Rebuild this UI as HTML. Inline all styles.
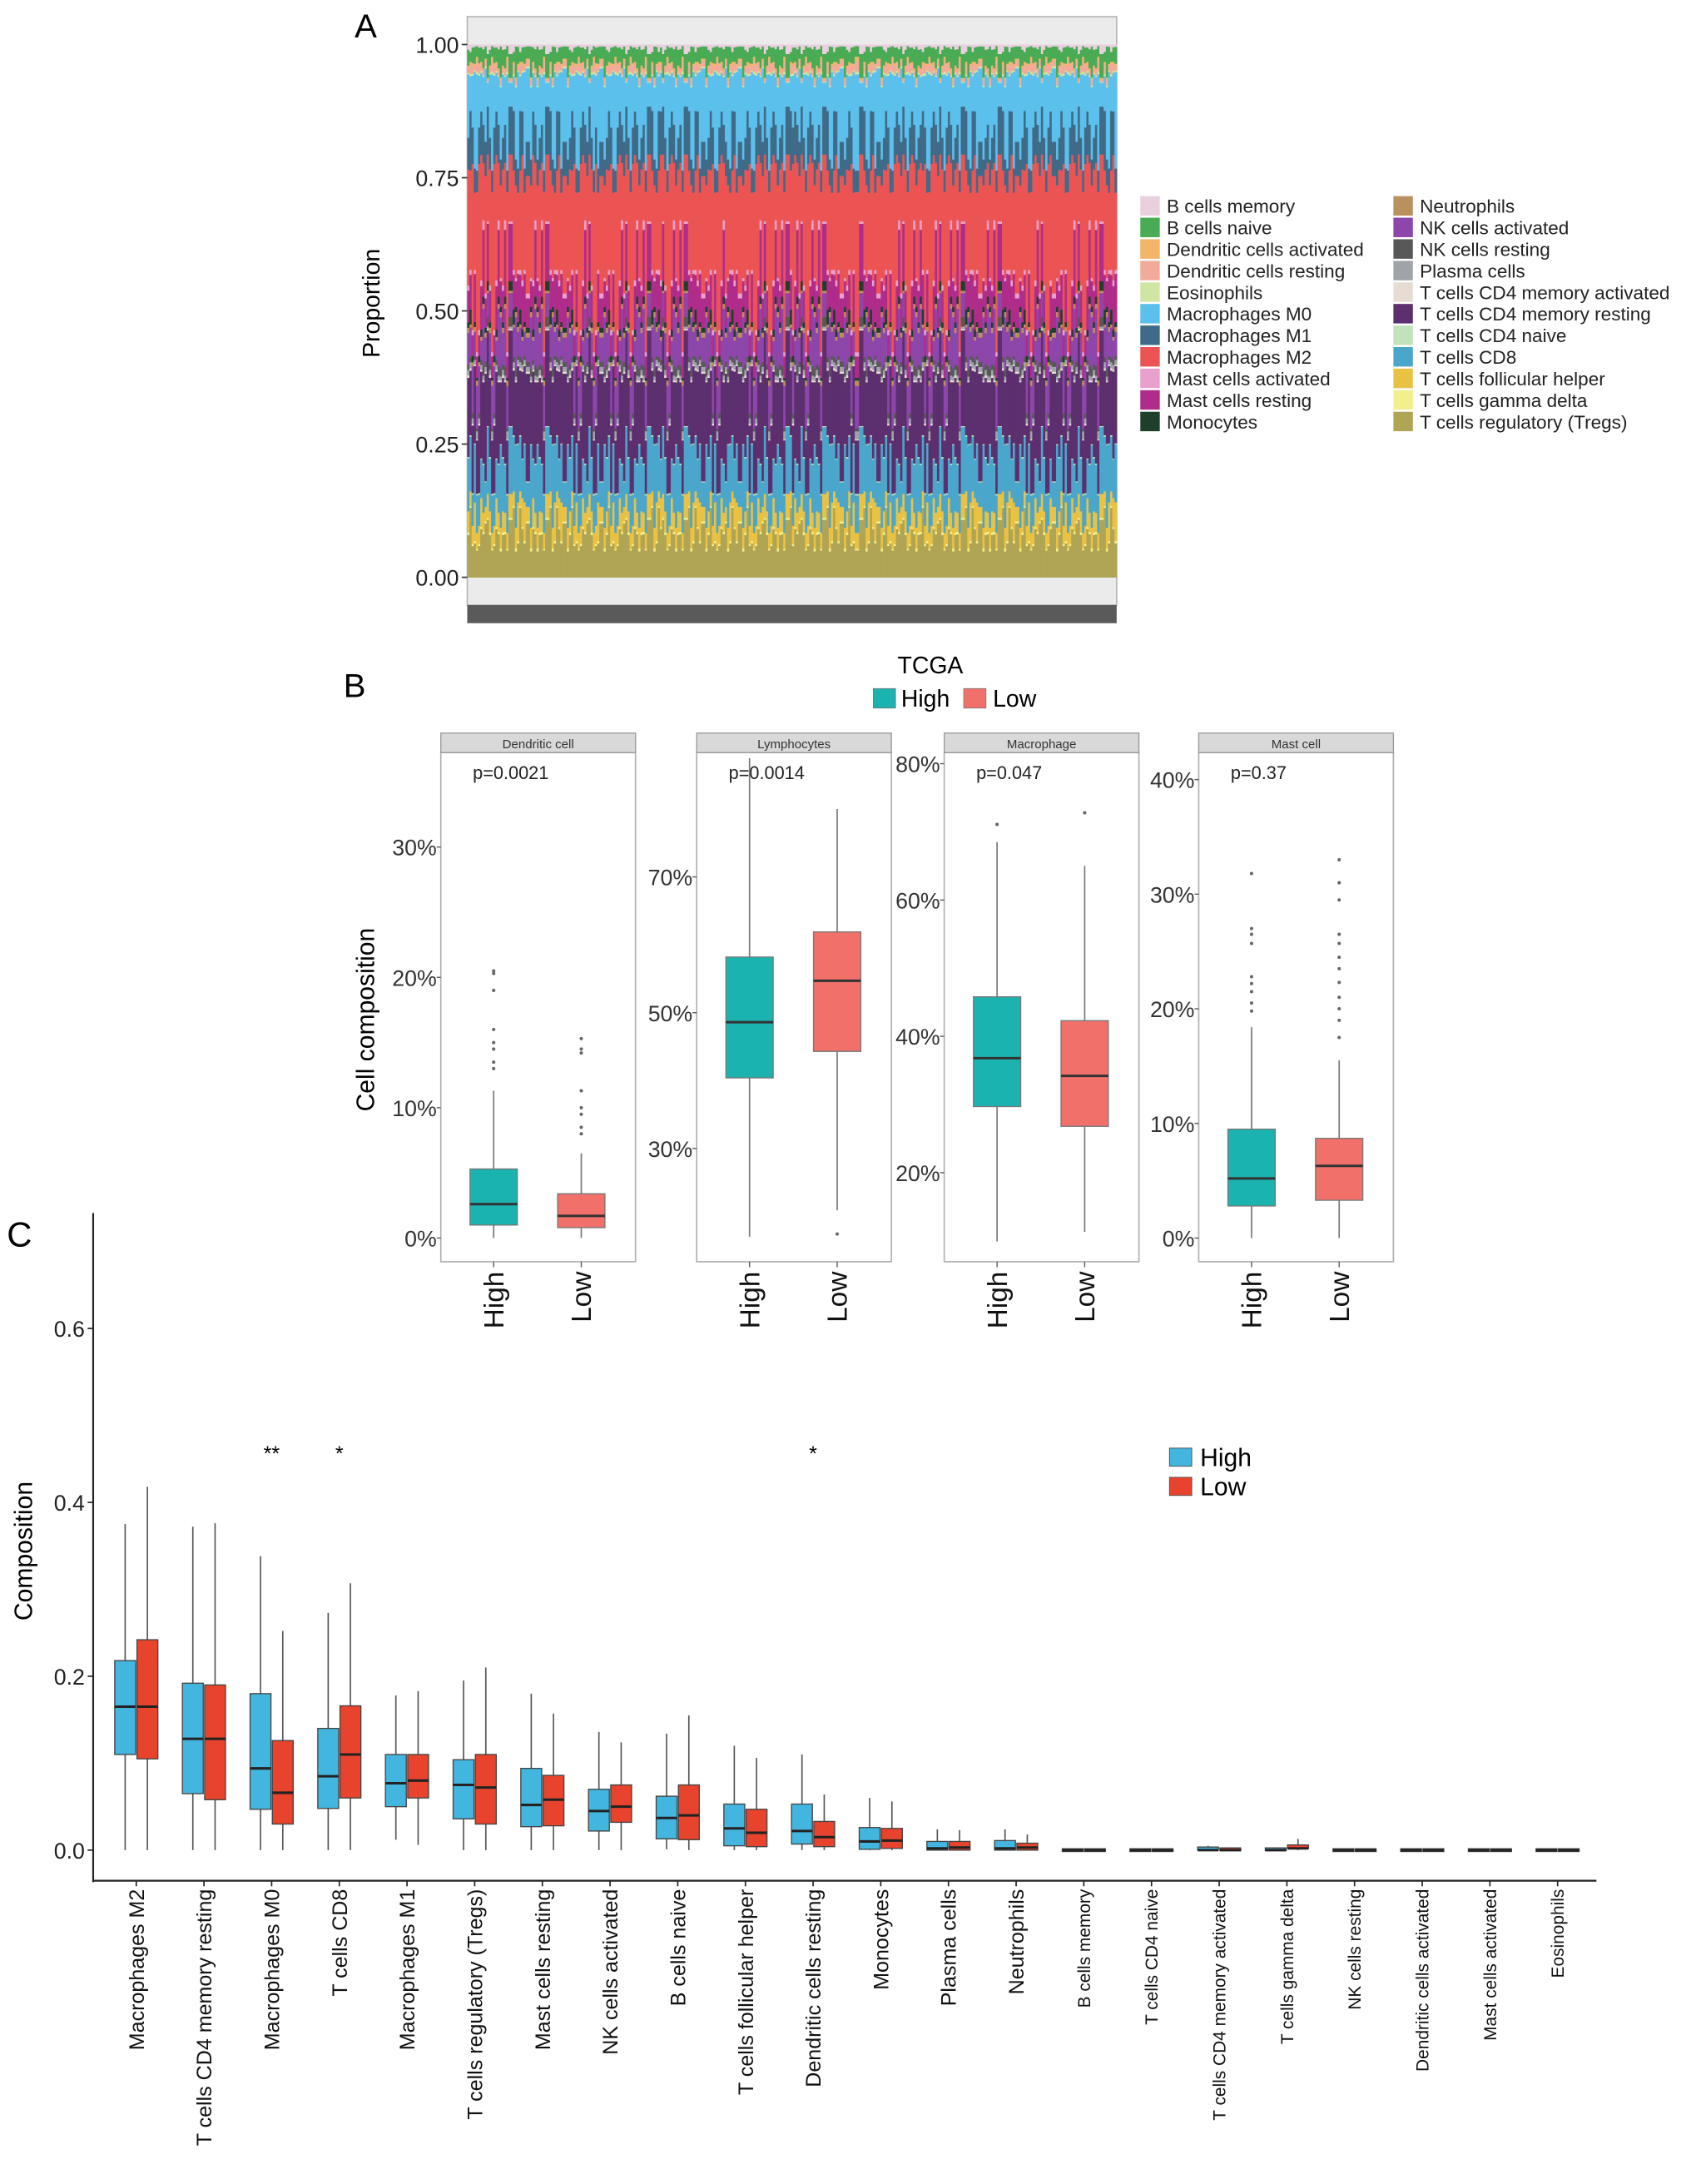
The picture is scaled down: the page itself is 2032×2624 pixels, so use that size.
<!DOCTYPE html>
<html><head><meta charset="utf-8"><style>
html,body{margin:0;padding:0;background:#fff;}
svg{display:block;font-family:"Liberation Sans",Arial,sans-serif;}
</style></head><body>
<svg id="fig" width="2032" height="2624" viewBox="0 0 1216 1570" preserveAspectRatio="none" xmlns="http://www.w3.org/2000/svg">
<g id="pa"></g>
<g id="pb"></g>
<g id="pc"></g>
</svg>
<script>
// ---------- Panel A data ----------
const cellTypes = ["B cells memory","B cells naive","Dendritic cells activated","Dendritic cells resting","Eosinophils","Macrophages M0","Macrophages M1","Macrophages M2","Mast cells activated","Mast cells resting","Monocytes","Neutrophils","NK cells activated","NK cells resting","Plasma cells","T cells CD4 memory activated","T cells CD4 memory resting","T cells CD4 naive","T cells CD8","T cells follicular helper","T cells gamma delta","T cells regulatory (Tregs)"];
const cellColors = ["#ead0de","#4aab55","#f3b56a","#f2ab98","#cfe6a2","#5cc0ec","#3f6b88","#ec5454","#eaa0cc","#b02c8a","#1f3f2b","#b8915e","#8d46aa","#585858","#a0a4aa","#e6dcd2","#5c2f6e","#c2e2bc","#4ba6cb","#e9c244","#f2f08c","#b0a455"];
const profile1 = [.01,.03,.004,.01,.003,.12,.06,.22,.01,.06,.01,.01,.06,.01,.01,.005,.15,.003,.10,.04,.005,.08];
const profile2 = [.02,.05,.003,.005,.002,.05,.10,.14,.005,.12,.02,.005,.05,.02,.005,.003,.20,.002,.14,.05,.004,.12];
const profile3 = [.003,.02,.008,.02,.005,.18,.04,.30,.008,.04,.005,.01,.08,.005,.015,.002,.10,.003,.07,.03,.003,.05];
const profile4 = [.006,.03,.004,.015,.004,.08,.09,.26,.012,.09,.015,.008,.04,.01,.01,.004,.18,.002,.08,.06,.004,.10];
const profile5 = [.004,.06,.006,.01,.003,.14,.05,.18,.006,.05,.01,.01,.10,.015,.008,.003,.12,.002,.16,.04,.006,.05];
const profile6 = [.015,.02,.005,.02,.004,.07,.12,.20,.01,.07,.03,.006,.06,.01,.012,.005,.13,.003,.11,.03,.003,.14];
const profile7 = [.005,.035,.004,.01,.003,.20,.05,.16,.008,.10,.01,.01,.05,.008,.01,.003,.16,.002,.12,.08,.005,.07];
const profile8 = [.006,.03,.005,.015,.004,.10,.07,.32,.01,.04,.012,.008,.09,.01,.01,.004,.13,.003,.06,.035,.004,.06];
const profile9 = [.01,.04,.005,.01,.003,.10,.08,.12,.02,.14,.015,.01,.12,.02,.01,.004,.17,.003,.10,.04,.005,.09];
const profile10 = [.004,.025,.004,.012,.004,.15,.07,.24,.01,.06,.01,.01,.05,.01,.01,.004,.22,.002,.05,.03,.004,.11];
const sampleProfiles = [profile1,profile2,profile3,profile4,profile5,profile6,profile7,profile8,profile9,profile10];
const sampleOrder = [0,3,6,1,4,7,2,5,8,9,0,6,3,1,7,4,9,2,5,8,1,6,0,4,7,3,9,5,2,8];

// ---------- Panel B data ----------
const facetNames = ["Dendritic cell","Lymphocytes","Macrophage","Mast cell"];
const facetP = ["p=0.0021","p=0.0014","p=0.047","p=0.37"];
const facetTicks = [[0,10,20,30],[30,50,70],[20,40,60,80],[0,10,20,30,40]];
// [whiskerLow, q1, median, q3, whiskerHigh]
const highStats = [[0,1.0,2.6,5.3,11.3],[17,40.4,48.6,58.2,87.5],[9.9,29.7,36.8,45.8,68.5],[0,2.8,5.2,9.5,18.4]];
const lowStats = [[0,0.8,1.7,3.4,6.5],[20.9,44.3,54.7,61.9,80],[11.3,26.8,34.2,42.3,65],[0,3.3,6.3,8.7,15.5]];
const highOut = [[13,13.5,14.5,15,16,19,20.3,20.5],[],[71.1],[19.8,20.5,21.5,22.2,22.8,25.7,26.5,27,31.8]];
const lowOut = [[8,8.5,9.5,10,11.3,14.2,14.5,15.3],[17.4],[72.8],[17.5,19,20,21,22.3,23.5,24.5,25.7,26.5,29.5,31,33]];

// ---------- Panel C data ----------
const cCats = ["Macrophages M2","T cells CD4 memory resting","Macrophages M0","T cells CD8","Macrophages M1","T cells regulatory (Tregs)","Mast cells resting","NK cells activated","B cells naive","T cells follicular helper","Dendritic cells resting","Monocytes","Plasma cells","Neutrophils","B cells memory","T cells CD4 naive","T cells CD4 memory activated","T cells gamma delta","NK cells resting","Dendritic cells activated","Mast cells activated","Eosinophils"];
// [min, q1, median, q3, max]
const cHigh = [[0,.11,.165,.218,.375],[0,.065,.128,.192,.372],[0,.047,.094,.18,.338],[0,.048,.085,.14,.273],[.012,.05,.077,.11,.178],[0,.036,.075,.104,.195],[0,.027,.052,.094,.18],[0,.022,.045,.07,.136],[.001,.013,.037,.062,.134],[0,.005,.025,.053,.12],[0,.007,.022,.053,.11],[0,.001,.01,.026,.06],[0,0,.002,.01,.024],[0,0,.002,.011,.024],[0,0,0,0,0],[0,0,0,0,0],[0,0,0,.002,.005],[0,0,0,.001,.003],[0,0,0,0,0],[0,0,0,0,0],[0,0,0,0,0],[0,0,0,0,0]];
const cLow = [[0,.105,.165,.242,.418],[0,.058,.128,.19,.376],[0,.03,.066,.126,.252],[0,.06,.11,.166,.307],[.006,.06,.08,.11,.183],[0,.03,.072,.11,.21],[0,.028,.058,.086,.157],[0,.032,.05,.075,.124],[0,.012,.04,.075,.155],[0,.004,.02,.047,.106],[0,.004,.015,.033,.064],[0,.002,.011,.025,.056],[0,0,.003,.01,.023],[0,0,.003,.008,.018],[0,0,0,0,0],[0,0,0,0,0],[0,0,0,.001,.003],[0,.002,.002,.006,.013],[0,0,0,0,0],[0,0,0,0,0],[0,0,0,0,0],[0,0,0,0,0]];
const cStars = ["","","**","*","","","","","","","*","","","","","","","","","","",""];
const cTicks = [0,0.2,0.4,0.6];
const cTickLabels = ["0.0","0.2","0.4","0.6"];

const NS="http://www.w3.org/2000/svg";
function mk(parent,tag,attrs,text){const e=document.createElementNS(NS,tag);for(const k in attrs)e.setAttribute(k,attrs[k]);if(text!==undefined)e.textContent=text;parent.appendChild(e);return e;}

// ================= PANEL A =================
(function(){
const g=document.getElementById('pa');
const X0=336,X1=803,Y1=32,Y0=415;
const ya=v=>Y0-(Y0-Y1)*v;
let t=mk(g,'text',{x:263,y:27,'font-size':24,'text-anchor':'middle'},'A');


let bg=mk(g,'rect',{x:X0,y:12,width:X1-X0,height:423,fill:'#ebebeb',stroke:'#b5b5b5','stroke-width':1});


const nBars=300,bw=(X1-X0)/nBars;
for(let i=0;i<nBars;i++){
  const p=sampleProfiles[sampleOrder[(i*7+Math.floor(i/30))%sampleOrder.length]];
  const tot=p.reduce((a,b)=>a+b,0);
  let top=1;
  for(let k=0;k<p.length;k++){
    const v=p[k]/tot;
    const r=mk(g,'rect',{x:(X0+i*bw).toFixed(2),y:ya(top).toFixed(2),width:(bw+0.3).toFixed(2),height:(ya(top-v)-ya(top)+0.2).toFixed(2),fill:cellColors[k]});
    
    
    top-=v;
  }
}
let strip=mk(g,'rect',{x:X0,y:435,width:X1-X0,height:13,fill:'#5a5a5a'});


[0,0.25,0.5,0.75,1].forEach(v=>{
  const y=ya(v);
  const l=mk(g,'line',{x1:X0-4,x2:X0,y1:y,y2:y,stroke:'#333','stroke-width':1});
  
  
  const tx=mk(g,'text',{x:X0-6,y:y+6,'font-size':16,'text-anchor':'end',fill:'#222'},v.toFixed(2));
  
  
});
t=mk(g,'text',{x:0,y:0,'font-size':17,'text-anchor':'middle',transform:'translate(273,218) rotate(-90)'},'Proportion');


cellTypes.forEach((n,k)=>{
  const col=k<11?0:1,row=k%11;
  const x=col?1002:820,y=141+row*15.5;
  const s=mk(g,'rect',{x:x,y:y,width:14,height:14,fill:cellColors[k]});
  
  
  const tx=mk(g,'text',{x:x+19,y:y+12,'font-size':13.5,fill:'#222'},n);
  
  
});
})();

// ================= PANEL B =================
(function(){
const g=document.getElementById('pb');
const teal='#1ab3b0',salmon='#f1716a';
let t=mk(g,'text',{x:255,y:501,'font-size':24,'text-anchor':'middle'},'B');


t=mk(g,'text',{x:669,y:484,'font-size':17,'text-anchor':'middle'},'TCGA');


let s=mk(g,'rect',{x:628,y:495,width:16,height:14,fill:teal,stroke:'#777','stroke-width':0.5});


t=mk(g,'text',{x:648,y:508,'font-size':17},'High');


s=mk(g,'rect',{x:693,y:495,width:16,height:14,fill:salmon,stroke:'#777','stroke-width':0.5});


t=mk(g,'text',{x:714,y:508,'font-size':17},'Low');


t=mk(g,'text',{x:0,y:0,'font-size':18,'text-anchor':'middle',transform:'translate(269,733) rotate(-90)'},'Cell composition');


const facetX=[317,501,679,862],fw=140;
const scales=[[0,890,9.37],[50,728,4.88],[40,745,4.9],[0,890,8.24]];
facetNames.forEach((name,f)=>{
  const x0=facetX[f];
  const sy=v=>scales[f][1]-(v-scales[f][0])*scales[f][2];
  let r=mk(g,'rect',{x:x0,y:541,width:fw,height:366,fill:'#fff',stroke:'#b0b0b0','stroke-width':1});
  
  
  r=mk(g,'rect',{x:x0,y:527,width:fw,height:14,fill:'#d9d9d9',stroke:'#999','stroke-width':0.8});
  
  
  let tx=mk(g,'text',{x:x0+fw/2,y:538,'font-size':9,'text-anchor':'middle',fill:'#333'},name);
  
  
  tx=mk(g,'text',{x:x0+23,y:560,'font-size':13,fill:'#222'},facetP[f]);
  
  
  facetTicks[f].forEach(v=>{
    const y=sy(v);
    const l=mk(g,'line',{x1:x0-3,x2:x0,y1:y,y2:y,stroke:'#555','stroke-width':0.8});
    
    
    const tt=mk(g,'text',{x:x0-3,y:y+6,'font-size':16,'text-anchor':'end',fill:'#333'},v+'%');
    
    
  });
  [[highStats[f],highOut[f],teal,38,'High'],[lowStats[f],lowOut[f],salmon,101,'Low']].forEach(([st,out,col,dx,lab])=>{
    const cx=x0+dx,w=34;
    const wl=mk(g,'line',{x1:cx,x2:cx,y1:sy(st[0]),y2:sy(st[4]),stroke:'#777','stroke-width':1});
    
    
    const b=mk(g,'rect',{x:cx-w/2,y:sy(st[3]),width:w,height:sy(st[1])-sy(st[3]),fill:col,stroke:'#777','stroke-width':0.8});
    
    
    const m=mk(g,'line',{x1:cx-w/2,x2:cx+w/2,y1:sy(st[2]),y2:sy(st[2]),stroke:'#333','stroke-width':1.8});
    
    
    out.forEach(o=>{
      const c=mk(g,'circle',{cx:cx,cy:sy(o),r:1.2,fill:'#666'});
      
      
    });
    const tk=mk(g,'line',{x1:cx,x2:cx,y1:907,y2:911,stroke:'#555','stroke-width':0.8});
    
    
    const xl=mk(g,'text',{x:0,y:0,'font-size':20,'text-anchor':'end',fill:'#111',transform:`translate(${cx+7},914) rotate(-90)`},lab);
    
    
  });
});
})();

// ================= PANEL C =================
(function(){
const g=document.getElementById('pc');
const blue='#42b6df',red='#e8432c';
const yc=v=>1330-v*625;
const xc=i=>98+i*48.67;
let t=mk(g,'text',{x:14,y:896,'font-size':25,'text-anchor':'middle'},'C');


let ax=mk(g,'line',{x1:67,x2:67,y1:872,y2:1353,stroke:'#222','stroke-width':1.3});


ax=mk(g,'line',{x1:67,x2:1148,y1:1352,y2:1352,stroke:'#222','stroke-width':1.3});


cTicks.forEach((v,i)=>{
  const y=yc(v);
  const l=mk(g,'line',{x1:63,x2:67,y1:y,y2:y,stroke:'#222','stroke-width':1});
  
  
  const tx=mk(g,'text',{x:61,y:y+6,'font-size':16,'text-anchor':'end',fill:'#222'},cTickLabels[i]);
  
  
});
t=mk(g,'text',{x:0,y:0,'font-size':18,'text-anchor':'middle',transform:'translate(23,1115) rotate(-90)'},'Composition');


cCats.forEach((name,i)=>{
  const cx=xc(i);
  [[cHigh[i],blue,-8,'high'],[cLow[i],red,8,'low']].forEach(([st,col,dx,lab])=>{
    const x=cx+dx,w=15;
    const wl=mk(g,'line',{x1:x,x2:x,y1:yc(st[0]),y2:yc(st[4]),stroke:'#555','stroke-width':1});
    
    
    const h=Math.max(yc(st[1])-yc(st[3]),2);
    const b=mk(g,'rect',{x:x-w/2,y:yc(st[3])-(h>2?0:1),width:w,height:h,fill:col,stroke:'#444','stroke-width':0.8});
    
    
    const m=mk(g,'line',{x1:x-w/2,x2:x+w/2,y1:yc(st[2]),y2:yc(st[2]),stroke:'#222','stroke-width':1.8});
    
    
  });
  if(cStars[i]){
    const s=mk(g,'text',{x:cx,y:1050,'font-size':15,'text-anchor':'middle'},cStars[i]);
    
    
  }
  const tk=mk(g,'line',{x1:cx,x2:cx,y1:1352,y2:1356,stroke:'#222','stroke-width':1});
  
  
  const fs=i<14?15:12.5;
  const xl=mk(g,'text',{x:0,y:0,'font-size':fs,'text-anchor':'end',fill:'#111',transform:`translate(${cx+fs*0.36},1358) rotate(-90)`},name);
  
  
});
let s=mk(g,'rect',{x:841,y:1041,width:16,height:13,fill:blue,stroke:'#555','stroke-width':0.6});


t=mk(g,'text',{x:863,y:1054,'font-size':18},'High');


s=mk(g,'rect',{x:841,y:1062,width:16,height:13,fill:red,stroke:'#555','stroke-width':0.6});


t=mk(g,'text',{x:863,y:1075,'font-size':18},'Low');


})();
</script>
</body></html>
